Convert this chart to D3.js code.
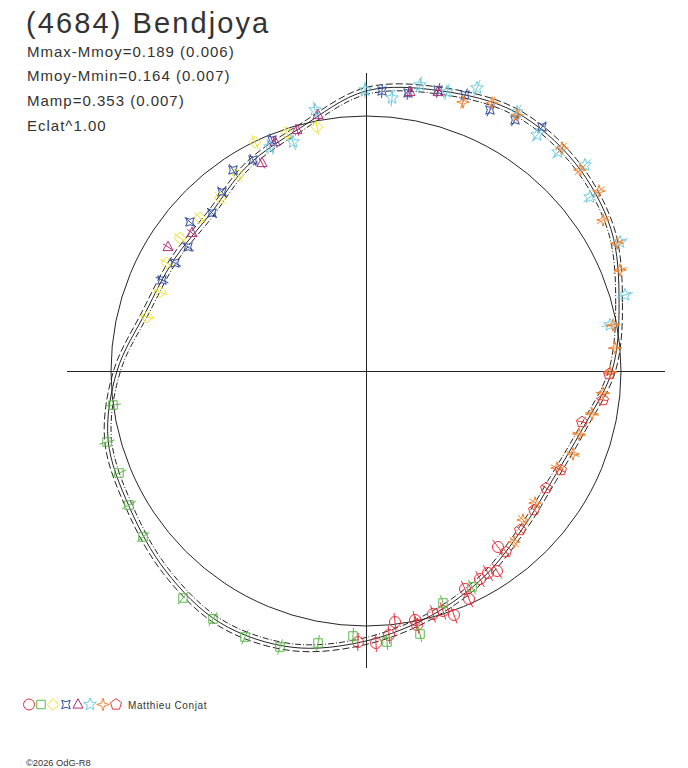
<!DOCTYPE html>
<html><head><meta charset="utf-8">
<script src="https://cdn.jsdelivr.net/npm/d3@7"></script>
<style>body{margin:0;background:#fff}svg{display:block}</style>
</head><body><svg id="c" width="688" height="768"></svg>
<script>
// ---------- data ----------
const title = "(4684) Bendjoya";
const statLines = ["Mmax-Mmoy=0.189 (0.006)", "Mmoy-Mmin=0.164 (0.007)", "Mamp=0.353 (0.007)", "Eclat^1.00"];
const observer = "Matthieu Conjat";
const copyright = "\u00A92026 OdG-R8";

// fitted curve: polar angle (deg, counter-clockwise from +x) and radius
const fitAngles = [0, 15, 30, 45, 60, 75, 90, 105, 120, 135, 150, 165, 180, 195, 210, 225, 240, 255, 270, 285, 300, 315, 330, 345];
const fitRadii  = [2.46, 2.62, 2.83, 2.95, 2.99, 2.90, 2.80, 2.52, 2.37, 2.21, 2.22, 2.28, 2.49, 2.67, 2.73, 2.83, 2.91, 2.86, 2.70, 2.53, 2.37, 2.22, 2.16, 2.24];
const fitBand = 0.035;      // half width of the uncertainty curves
const refRadius = 2.55;     // reference circle

// observations (x, y in plot units)
const redCircles = [[-0.08,-2.71],[0.10,-2.72],[0.23,-2.64],[0.29,-2.51],[0.49,-2.49],[0.51,-2.54],[0.67,-2.43],[0.77,-2.40],[0.88,-2.44],[1.03,-2.28],[0.99,-2.18],[1.14,-2.08],[1.22,-2.02],[1.31,-2.00],[1.32,-1.76]];
const greenSquares = [[-2.53,-0.34],[-2.59,-0.71],[-2.47,-1.02],[-2.37,-1.34],[-2.23,-1.66],[-1.83,-2.27],[-1.53,-2.48],[-1.21,-2.66],[-0.86,-2.76],[-0.48,-2.72],[-0.13,-2.65],[0.21,-2.71],[0.54,-2.63],[0.77,-2.32],[1.06,-2.16]];
const yellowDiamonds = [[-0.49,2.44],[-0.79,2.38],[-1.11,2.29],[-1.28,1.96],[-1.46,1.73],[-1.66,1.53],[-1.86,1.33],[-1.99,1.08],[-2.06,0.79],[-2.19,0.54]];
const blueStars = [[0.16,2.80],[0.42,2.78],[0.72,2.81],[0.99,2.76],[1.24,2.61],[1.49,2.51],[1.76,2.44],[-0.94,2.31],[-1.13,2.11],[-1.33,2.01],[-1.44,1.79],[-1.54,1.58],[-1.76,1.49],[-1.78,1.24],[-1.91,1.08],[-2.04,0.91]];
const purpleTriangles = [[0.44,2.79],[0.72,2.79],[-0.48,2.56],[-0.69,2.41],[-0.91,2.29],[-1.04,2.08],[-1.74,1.38],[-1.98,1.24]];
const cyanStars = [[-0.01,2.81],[0.26,2.73],[0.54,2.86],[0.81,2.79],[1.11,2.83],[1.51,2.59],[1.71,2.36],[1.92,2.19],[2.19,2.06],[2.24,1.74],[2.54,1.29],[2.59,0.76],[2.44,0.46],[-0.51,2.61],[-0.73,2.29],[-0.96,2.24]];
const orangeStars = [[0.97,2.69],[1.26,2.68],[1.51,2.56],[1.96,2.23],[2.14,2.01],[2.33,1.80],[2.37,1.51],[2.51,1.28],[2.54,1.01],[2.47,0.46],[2.49,0.23],[2.44,-0.01],[2.37,-0.22],[2.26,-0.43],[2.13,-0.63],[2.07,-0.83],[1.91,-0.97],[1.69,-1.32],[1.57,-1.49],[1.48,-1.71]];
const redPentagons = [[1.40,-1.81],[1.54,-1.59],[1.68,-1.39],[1.80,-1.17],[1.95,-0.99],[2.16,-0.51],[2.37,-0.29],[2.43,-0.03]];

const seriesData   = [redCircles, greenSquares, yellowDiamonds, blueStars, purpleTriangles, cyanStars, orangeStars, redPentagons];
const seriesShapes = ["circle", "square", "diamond", "star4x", "triangle", "star5", "star4", "pentagon"];
const seriesColors = ["#e8303a", "#5cb84a", "#f2e31e", "#2f4c9e", "#b02e78", "#6ecbe0", "#f2832e", "#e83a36"];
const seriesErr    = [0.09, 0.08, 0.075, 0.07, 0.06, 0.085, 0.07, 0.05];

// ---------- drawing ----------
const svg = d3.select("#c");
const ink = "#262626";
const x = d3.scaleLinear().domain([-3, 3]).range([66, 666]);
const y = d3.scaleLinear().domain([-3, 3]).range([671, 71]);
const r = d3.scaleLinear().domain([0, 3]).range([0, 300]);
const cx = x(0), cy = y(0);

// axes
svg.append("line").attr("x1", x(-2.99)).attr("x2", x(2.99)).attr("y1", cy).attr("y2", cy)
  .attr("stroke", ink).attr("stroke-width", 1).attr("shape-rendering", "crispEdges");
svg.append("line").attr("x1", cx).attr("x2", cx).attr("y1", y(2.98)).attr("y2", y(-2.97))
  .attr("stroke", ink).attr("stroke-width", 1).attr("shape-rendering", "crispEdges");

const gPolar = svg.append("g").attr("transform", `translate(${cx},${cy})`);
// reference circle
gPolar.append("circle").attr("r", r(refRadius)).attr("fill", "none").attr("stroke", ink).attr("stroke-width", 1);

const fitPts = fitAngles.map((a, i) => ({a, v: fitRadii[i]}));
const radial = off => d3.lineRadial()
  .angle(d => (90 - d.a) * Math.PI / 180)
  .radius(d => r(d.v + off))
  .curve(d3.curveCatmullRomClosed.alpha(0.5));
gPolar.append("path").attr("d", radial(fitBand)(fitPts)).attr("fill", "none")
  .attr("stroke", ink).attr("stroke-width", 1).attr("stroke-dasharray", "7,3");
gPolar.append("path").attr("d", radial(-fitBand)(fitPts)).attr("fill", "none")
  .attr("stroke", ink).attr("stroke-width", 1).attr("stroke-dasharray", "6,2,1,2");
gPolar.append("path").attr("d", radial(0)(fitPts)).attr("fill", "none")
  .attr("stroke", ink).attr("stroke-width", 1);

// marker shapes
function polyPath(n, R, rot, inner) {
  const pts = [];
  const m = inner ? n * 2 : n;
  for (let k = 0; k < m; k++) {
    const rad = inner && (k % 2 === 1) ? inner : R;
    const t = rot + k * 2 * Math.PI / m;
    pts.push([rad * Math.cos(t), rad * Math.sin(t)]);
  }
  return "M" + pts.map(p => p[0].toFixed(2) + "," + p[1].toFixed(2)).join("L") + "Z";
}
const up = -Math.PI / 2;
function shapePath(s) {
  switch (s) {
    case "circle": return d3.symbol().type(d3.symbolCircle).size(95)();
    case "square": return polyPath(4, 6.0, Math.PI / 4);
    case "diamond": return polyPath(4, 5.8, 0);
    case "star4x": return polyPath(4, 6.0, Math.PI / 4, 2.7);
    case "triangle": return "M0,-5.8L5,3.6L-5,3.6Z";
    case "star5": return polyPath(5, 6.6, up, 2.8);
    case "star4": return polyPath(4, 6.3, up, 2.0);
    case "pentagon": return polyPath(5, 5.8, up);
  }
}

// observations with radial error bars
seriesData.forEach((data, si) => {
  const g = svg.append("g");
  const col = seriesColors[si], e = seriesErr[si];
  data.forEach(p => {
    const len = Math.hypot(p[0], p[1]);
    const ux = p[0] / len, uy = p[1] / len;
    g.append("line")
      .attr("x1", x(p[0] - e * ux)).attr("y1", y(p[1] - e * uy))
      .attr("x2", x(p[0] + e * ux)).attr("y2", y(p[1] + e * uy))
      .attr("stroke", col).attr("stroke-width", 1);
    g.append("path").attr("d", shapePath(seriesShapes[si]))
      .attr("transform", `translate(${x(p[0])},${y(p[1])})`)
      .attr("fill", "none").attr("stroke", col).attr("stroke-width", 1);
  });
});

// texts
const font = "'Liberation Sans', Arial, Helvetica, sans-serif";
const txt = "#333333";
svg.append("text").attr("x", 26).attr("y", 32.5).text(title)
  .attr("font-family", font).attr("font-size", 29).attr("letter-spacing", 2.1).attr("fill", txt);
statLines.forEach((s, i) => {
  svg.append("text").attr("x", 27).attr("y", 56.5 + i * 24.7).text(s)
    .attr("font-family", font).attr("font-size", 15).attr("letter-spacing", 1.0).attr("fill", txt);
});

// legend
const legendX = [29, 41, 53, 66, 78, 90, 103, 116];
seriesShapes.forEach((s, i) => {
  svg.append("path").attr("d", shapePath(s)).attr("transform", `translate(${legendX[i]},704.5)`)
    .attr("fill", "none").attr("stroke", seriesColors[i]).attr("stroke-width", 1);
});
svg.append("text").attr("x", 128).attr("y", 709).text(observer)
  .attr("font-family", font).attr("font-size", 10).attr("letter-spacing", 0.6).attr("fill", txt);
svg.append("text").attr("x", 26).attr("y", 766).text(copyright)
  .attr("font-family", font).attr("font-size", 9.3).attr("fill", txt);
</script>
</body></html>
